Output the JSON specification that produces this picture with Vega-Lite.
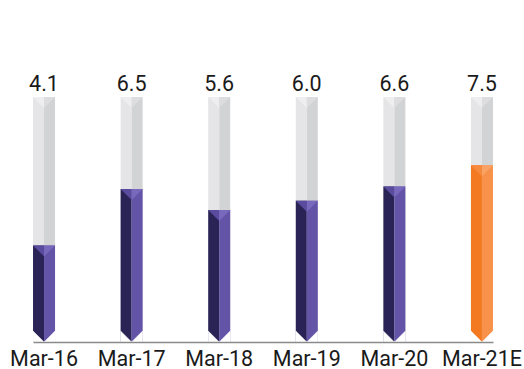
{
  "$schema": "https://vega.github.io/schema/vega-lite/v6.json",
  "width": 460,
  "height": 245,
  "autosize": {"type": "none"},
  "padding": {"left": 33, "top": 97, "right": 31, "bottom": 27},
  "background": "white",
  "config": {"view": {"stroke": null}, "font": "Roboto"},
  "data": {
    "values": [
      {"period": "Mar-16", "value": 4.1, "kind": "Actual"},
      {"period": "Mar-17", "value": 6.5, "kind": "Actual"},
      {"period": "Mar-18", "value": 5.6, "kind": "Actual"},
      {"period": "Mar-19", "value": 6.0, "kind": "Actual"},
      {"period": "Mar-20", "value": 6.6, "kind": "Actual"},
      {"period": "Mar-21E", "value": 7.5, "kind": "Estimate"}
    ]
  },
  "encoding": {
    "x": {
      "field": "period",
      "type": "nominal",
      "sort": null,
      "scale": {"type": "band", "paddingInner": 0.748, "paddingOuter": 0},
      "axis": {
        "title": null,
        "labelAngle": 0,
        "ticks": false,
        "domainColor": "#8a8a8a",
        "domainWidth": 1.5,
        "labelFontSize": 21.5,
        "labelColor": "#1a1a1a",
        "labelPadding": 6,
        "labelOverlap": false,
        "zindex": 2
      }
    }
  },
  "resolve": {"scale": {"color": "independent"}},
  "layer": [
    {
      "mark": {"type": "bar", "width": 11, "xOffset": -5.5, "color": "#e5e5e7"},
      "encoding": {
        "y": {"datum": 10.4, "type": "quantitative", "scale": {"domain": [0, 10.4], "nice": false, "zero": true}, "axis": null}
      }
    },
    {
      "mark": {"type": "bar", "width": 11, "xOffset": 5.5, "color": "#d2d3d5"},
      "encoding": {"y": {"datum": 10.4, "type": "quantitative"}}
    },
    {
      "mark": {"type": "point", "shape": "M -1 0 L 0 0 L 0 1 Z", "size": 484, "filled": true, "opacity": 1, "color": "#eeeeef"},
      "encoding": {"y": {"datum": 10.4, "type": "quantitative"}}
    },
    {
      "mark": {"type": "point", "shape": "M 0 0 L 1 0 L 0 1 Z", "size": 484, "filled": true, "opacity": 1, "color": "#dddddf"},
      "encoding": {"y": {"datum": 10.4, "type": "quantitative"}}
    },
    {
      "mark": {"type": "bar", "width": 11, "xOffset": -5.5},
      "encoding": {
        "y": {"field": "value", "type": "quantitative"},
        "color": {"field": "kind", "type": "nominal", "scale": {"domain": ["Actual", "Estimate"], "range": ["#2a2356", "#f47a22"]}, "legend": null}
      }
    },
    {
      "mark": {"type": "bar", "width": 11, "xOffset": 5.5},
      "encoding": {
        "y": {"field": "value", "type": "quantitative"},
        "color": {"field": "kind", "type": "nominal", "scale": {"domain": ["Actual", "Estimate"], "range": ["#6454a8", "#f8914a"]}, "legend": null}
      }
    },
    {
      "mark": {"type": "point", "shape": "M -1 0 L 0 0 L 0 1 Z", "size": 484, "filled": true, "opacity": 1},
      "encoding": {
        "y": {"field": "value", "type": "quantitative"},
        "color": {"field": "kind", "type": "nominal", "scale": {"domain": ["Actual", "Estimate"], "range": ["#5a4b9e", "#f68a3c"]}, "legend": null}
      }
    },
    {
      "mark": {"type": "point", "shape": "M 0 0 L 1 0 L 0 1 Z", "size": 484, "filled": true, "opacity": 1},
      "encoding": {
        "y": {"field": "value", "type": "quantitative"},
        "color": {"field": "kind", "type": "nominal", "scale": {"domain": ["Actual", "Estimate"], "range": ["#7869bd", "#f9a266"]}, "legend": null}
      }
    },
    {
      "mark": {"type": "point", "shape": "M -1 -1 L 0 0 L -1 0 Z M 1 -1 L 0 0 L 1 0 Z", "size": 484, "filled": true, "opacity": 1, "color": "white", "stroke": "white", "strokeWidth": 0.5},
      "encoding": {"y": {"datum": 0, "type": "quantitative"}}
    },
    {
      "mark": {"type": "text", "baseline": "alphabetic", "dy": -6, "fontSize": 21.5, "color": "#1a1a1a"},
      "encoding": {
        "y": {"datum": 10.4, "type": "quantitative"},
        "text": {"field": "value", "type": "quantitative", "format": ".1f"}
      }
    }
  ]
}
